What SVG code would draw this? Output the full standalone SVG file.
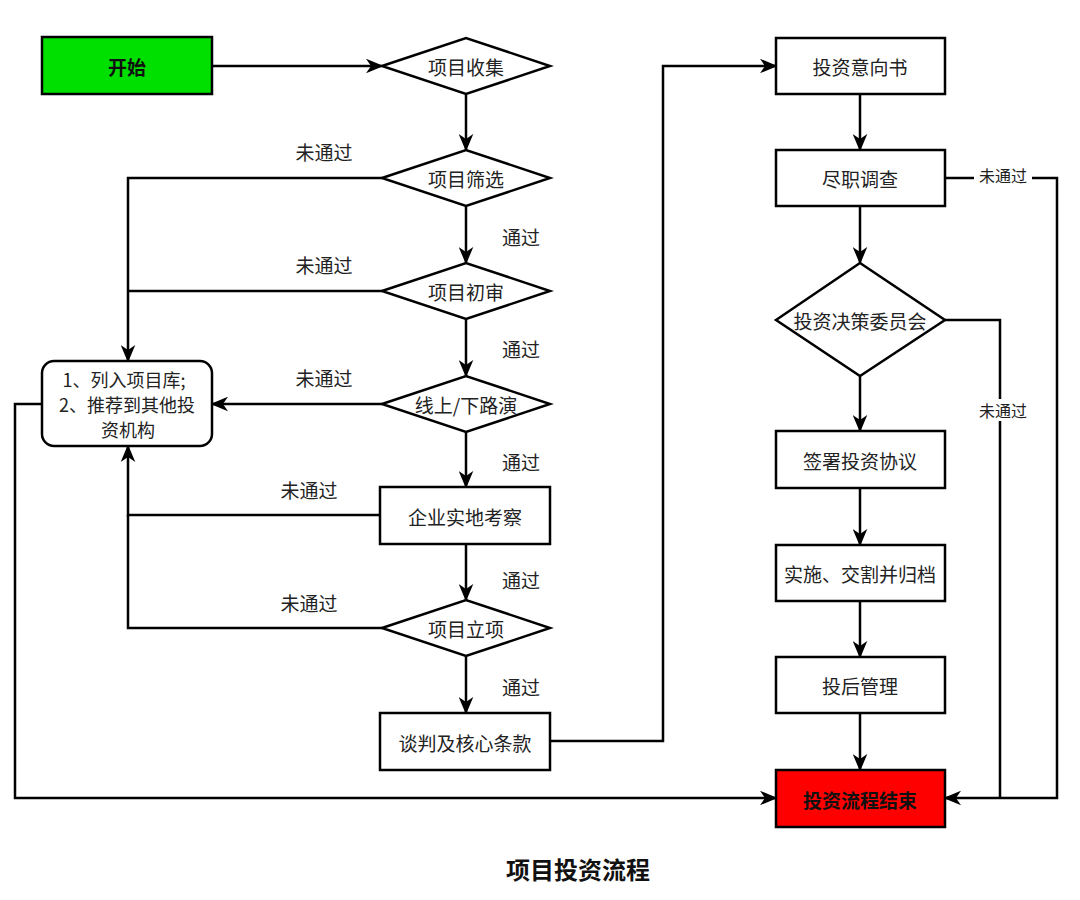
<svg xmlns="http://www.w3.org/2000/svg" width="1080" height="900" viewBox="0 0 1080 900">
<defs>
<marker id="arr" viewBox="0 0 12 10" refX="11" refY="5" markerWidth="7" markerHeight="6" orient="auto" markerUnits="strokeWidth">
<path d="M0,0 L12,5 L0,10 L3.5,5 z" fill="#000"/>
</marker>
<style>
.n{fill:#fff;stroke:#000;stroke-width:2.5}
.t{font-family:"Noto Sans CJK SC","Liberation Sans",sans-serif;font-size:19px;fill:#222;text-anchor:middle;dominant-baseline:central}
.b{font-weight:bold;fill:#111}
.m{font-size:18px}
.l{font-family:"Noto Sans CJK SC","Liberation Sans",sans-serif;font-size:19px;fill:#222;text-anchor:middle;dominant-baseline:central}
.s{font-size:16px}
.c{fill:none;stroke:#000;stroke-width:2.5}
.a{marker-end:url(#arr)}
</style>
</defs>
<rect width="1080" height="900" fill="#fff"/>
<g id="connectors">
<path class="c a" d="M212,66 H382"/>
<path class="c a" d="M466,94 V150"/>
<path class="c a" d="M466,206 V263"/>
<path class="c a" d="M466,319 V376"/>
<path class="c a" d="M466,432 V487"/>
<path class="c a" d="M466,544 V600"/>
<path class="c a" d="M466,656 V713"/>
<path class="c a" d="M382,178 H128 V361"/>
<path class="c" d="M382,291 H128"/>
<path class="c a" d="M382,404 H212"/>
<path class="c a" d="M380,515 H128 V446"/>
<path class="c" d="M382,628 H128 V515"/>
<path class="c a" d="M42,404 H15 V798 H776"/>
<path class="c a" d="M550,741 H663 V66 H776"/>
<path class="c a" d="M860,94 V150"/>
<path class="c a" d="M860,206 V263"/>
<path class="c a" d="M860,376 V431"/>
<path class="c a" d="M860,488 V545"/>
<path class="c a" d="M860,601 V657"/>
<path class="c a" d="M860,713 V770"/>
<path class="c a" d="M945,178 H1057 V798 H945"/>
<path class="c" d="M945,320 H1000 V798"/>
<rect x="974" y="165" width="58" height="22" fill="#fff"/>
<rect x="974" y="399" width="58" height="22" fill="#fff"/>
<text class="l s" x="1003" y="175">未通过</text>
<text class="l s" x="1003" y="410">未通过</text>
<text class="l" x="324" y="151">未通过</text>
<text class="l" x="324" y="264">未通过</text>
<text class="l" x="324" y="377">未通过</text>
<text class="l" x="309" y="489">未通过</text>
<text class="l" x="309" y="602">未通过</text>
<text class="l" x="521" y="236">通过</text>
<text class="l" x="521" y="348">通过</text>
<text class="l" x="521" y="461">通过</text>
<text class="l" x="521" y="579">通过</text>
<text class="l" x="521" y="686">通过</text>
</g>
<g id="start"><rect x="42" y="37" width="170" height="57" fill="#00e000" stroke="#000" stroke-width="2.5"/><text class="t b" x="127" y="66">开始</text></g>
<g id="collect"><polygon class="n" points="382,66 466,38 550,66 466,94"/><text class="t" x="466" y="66">项目收集</text></g>
<g id="screen"><polygon class="n" points="382,178 466,150 550,178 466,206"/><text class="t" x="466" y="178">项目筛选</text></g>
<g id="prelim"><polygon class="n" points="382,291 466,263 550,291 466,319"/><text class="t" x="466" y="291">项目初审</text></g>
<g id="roadshow"><polygon class="n" points="382,404 466,376 550,404 466,432"/><text class="t" x="466" y="404">线上/下路演</text></g>
<g id="visit"><rect class="n" x="380" y="487" width="170" height="57"/><text class="t" x="465" y="516">企业实地考察</text></g>
<g id="approve"><polygon class="n" points="382,628 466,600 550,628 466,656"/><text class="t" x="466" y="628">项目立项</text></g>
<g id="negotiate"><rect class="n" x="380" y="713" width="170" height="57"/><text class="t" x="465" y="742">谈判及核心条款</text></g>
<g id="library"><rect class="n" x="42" y="361" width="170" height="85" rx="12"/>
<text class="t m" x="124" y="379">1、列入项目库;</text>
<text class="t m" x="127" y="404">2、推荐到其他投</text>
<text class="t m" x="128" y="429">资机构</text></g>
<g id="loi"><rect class="n" x="776" y="38" width="169" height="56"/><text class="t" x="860" y="66">投资意向书</text></g>
<g id="dd"><rect class="n" x="776" y="150" width="169" height="56"/><text class="t" x="860" y="178">尽职调查</text></g>
<g id="committee"><polygon class="n" points="776,320 860,263 945,320 860,376"/><text class="t" x="860" y="320">投资决策委员会</text></g>
<g id="sign"><rect class="n" x="776" y="431" width="169" height="57"/><text class="t" x="860" y="460">签署投资协议</text></g>
<g id="close"><rect class="n" x="776" y="545" width="169" height="56"/><text class="t" x="860" y="573">实施、交割并归档</text></g>
<g id="post"><rect class="n" x="776" y="657" width="169" height="56"/><text class="t" x="860" y="685">投后管理</text></g>
<g id="end"><rect x="776" y="770" width="169" height="57" fill="#f00" stroke="#000" stroke-width="2.5"/><text class="t b" x="860" y="799">投资流程结束</text></g>
<text x="578" y="868" font-family="Noto Sans CJK SC, Liberation Sans, sans-serif" font-size="24" font-weight="bold" fill="#111" text-anchor="middle" dominant-baseline="central">项目投资流程</text>
</svg>
